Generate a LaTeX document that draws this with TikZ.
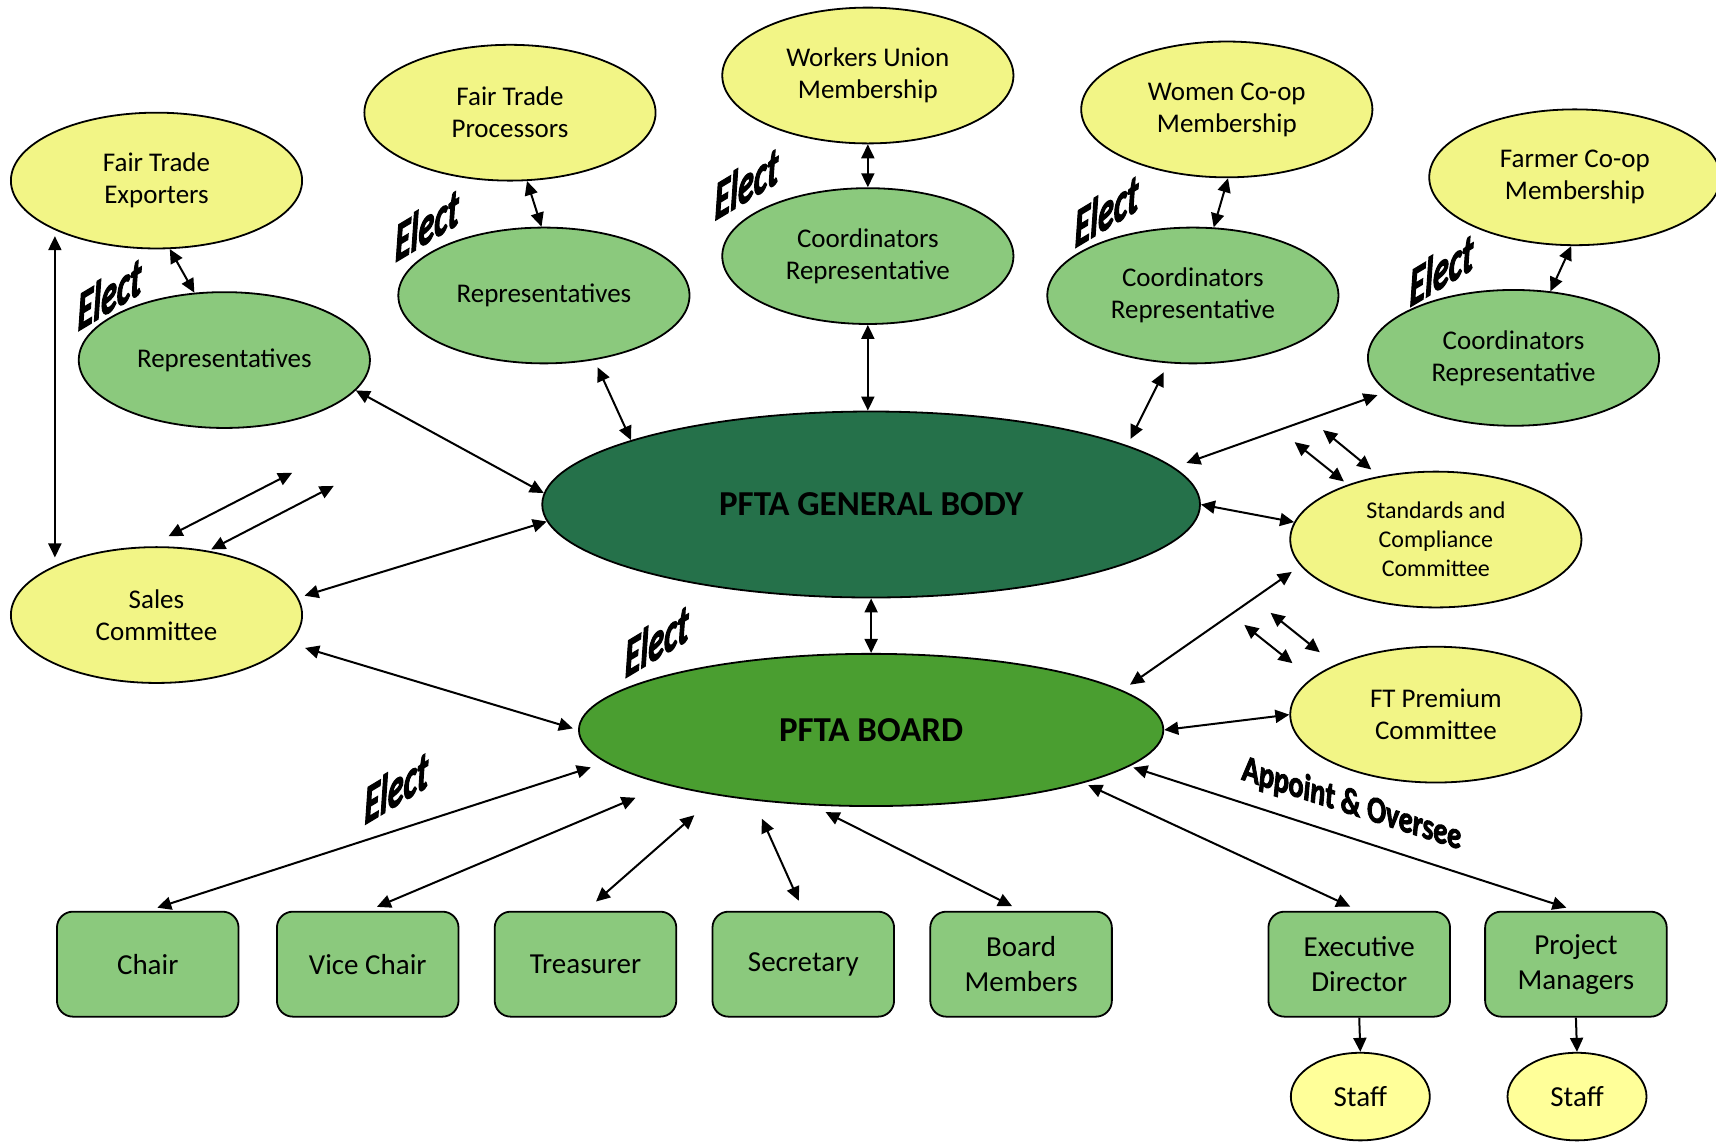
\documentclass[tikz,border=0pt]{standalone}
\usepackage{fontspec}
\setmainfont{Carlito}
\newfontfamily\heavyfont[BoldItalicFeatures={FakeBold=3}]{Carlito}
\usetikzlibrary{shapes.geometric,arrows.meta}

\definecolor{cyel}{HTML}{F2F586}
\definecolor{cgrn}{HTML}{8BC97D}
\definecolor{cgb}{HTML}{25714A}
\definecolor{cbd}{HTML}{4A9E30}
\definecolor{cstaff}{HTML}{FFFF99}

\begin{document}
\begin{tikzpicture}[x=0.5472pt,y=-0.5472pt]
\tikzstyle{every node}=[font=\fontsize{13.5}{16}\selectfont]
\tikzstyle{yel}=[ellipse,draw,line width=0.9pt,fill=cyel,minimum width=145.6pt,minimum height=67.9pt,inner sep=0pt,align=center]
\tikzstyle{grn}=[yel,fill=cgrn]
\tikzstyle{body}=[yel,fill=cgb,minimum width=328.9pt,minimum height=93pt,font=\fontsize{17.5}{20}\selectfont\bfseries]
\tikzstyle{brd}=[body,fill=cbd,minimum width=292.2pt,minimum height=76.1pt]
\tikzstyle{post}=[rectangle,rounded corners=8pt,draw,line width=0.9pt,fill=cgrn,minimum width=90.8pt,minimum height=52.5pt,inner sep=0pt,align=center,font=\fontsize{14.5}{17.5}\selectfont]
\tikzstyle{staff}=[yel,fill=cstaff,minimum width=69.5pt,minimum height=43.8pt,font=\fontsize{14.5}{17.5}\selectfont]
\tikzstyle{link}=[{Triangle[length=7pt,width=6.5pt]}-{Triangle[length=7pt,width=6.5pt]},line width=1pt]
\tikzstyle{down}=[-{Triangle[length=7pt,width=6.5pt]},line width=1pt]
\tikzstyle{elect}=[font=\fontsize{16}{16}\selectfont\heavyfont\bfseries\itshape,inner sep=0pt,yslant=0.6,yscale=1.7]

\fill[white](0,0) rectangle (1568,1043);
\useasboundingbox (0,0) rectangle (1568,1043);

% members and their representatives
\node[yel](fte) at (143,165){Fair Trade\\Exporters};
\node[yel](ftp) at (466,103){Fair Trade\\Processors};
\node[yel](wum) at (793,69){Workers Union\\Membership};
\node[yel](wcm) at (1121,100){Women Co-op\\Membership};
\node[yel](fcm) at (1439,162){Farmer Co-op\\Membership};
\node[grn](rep1) at (205,329){Representatives};
\node[grn](rep2) at (497,270){Representatives};
\node[grn](crd1) at (793,234){Coordinators\\Representative};
\node[grn](crd2) at (1090,270){Coordinators\\Representative};
\node[grn](crd3) at (1383,327){Coordinators\\Representative};

% general body, board, committees
\node[body](gb) at (796,461){PFTA GENERAL BODY};
\node[brd](board) at (796,667){PFTA BOARD};
\node[yel](sales) at (143,562){Sales\\Committee};
\node[yel,font=\fontsize{12}{14.5}\selectfont](scc) at (1312,493){Standards and\\Compliance\\Committee};
\node[yel](ftpc) at (1312,653){FT Premium\\Committee};

% officers and staff
\node[post](chair) at (135,881){Chair};
\node[post](vice) at (336,881){Vice Chair};
\node[post](treas) at (535,881){Treasurer};
\node[post](sec) at (734,881){Secretary};
\node[post](bm) at (933,881){Board\\Members};
\node[post](ed) at (1242,881){Executive\\Director};
\node[post](pm) at (1440,881){Project\\Managers};
\node[staff](staffa) at (1243,1002){Staff};
\node[staff](staffb) at (1441,1002){Staff};

% labels
\node[elect] at (100,268){Elect};
\node[elect] at (390,205){Elect};
\node[elect] at (682,167){Elect};
\node[elect] at (1011,192){Elect};
\node[elect] at (1317,246){Elect};
\node[elect] at (600,585){Elect};
\node[elect] at (362,719){Elect};
\node[font=\fontsize{14}{14}\selectfont\heavyfont\bfseries\itshape,inner sep=0pt,yslant=-0.32,yscale=1.35] at (1235,735){Appoint \& Oversee};

% loose arrow pairs
\coordinate (sa1) at (154,490); \coordinate (sa2) at (267,432);
\coordinate (sb1) at (193,502); \coordinate (sb2) at (305,444);
\coordinate (ca1) at (1183,404); \coordinate (ca2) at (1228,440);
\coordinate (cb1) at (1209,393); \coordinate (cb2) at (1253,429);
\coordinate (pa1) at (1137,571); \coordinate (pa2) at (1181,606);
\coordinate (pb1) at (1161,560); \coordinate (pb2) at (1206,596);
\draw[link](sa1)--(sa2);
\draw[link](sb1)--(sb2);
\draw[link](ca1)--(ca2);
\draw[link](cb1)--(cb2);
\draw[link](pa1)--(pa2);
\draw[link](pb1)--(pb2);

% connectors
\draw[link,shorten <=3pt,shorten >=4pt](fte.206)--(sales.154);
\draw[link](fte.-79)--(rep1.114);
\draw[link](ftp.-76)--(rep2.92);
\draw[link](wum.south)--(crd1.north);
\draw[link](wcm.-89)--(crd2.73);
\draw[link](fcm.-93)--(crd3.61);
\draw[link](rep1.-13)--(gb.178);
\draw[link,shorten <=4pt](rep2.-52)--(gb.165);
\draw[link](crd1.south)--(crd1.south|-gb.north);
\draw[link,shorten <=5pt,shorten >=3.6pt](crd2.-110)--(gb.13);
\draw[link,shorten <=4.7pt,shorten >=6.6pt](crd3.195)--(gb.7);
\draw[link](gb.east)--(scc.173);
\draw[link,shorten <=3.3pt](sales.7)--(gb.183);
\draw[link](gb.south)--(board.north);
\draw[link,shorten <=7.9pt,shorten >=2.7pt](sales.-12)--(board.west);
\draw[link,shorten <=5.3pt,shorten >=4.8pt](scc.191)--(board.9);
\draw[link](board.east)--(ftpc.west);
\draw[link,shorten <=7.8pt,shorten >=5pt](board.187)--(chair.north);
\draw[link,shorten <=16.5pt,shorten >=5pt](board.195)--(vice.north);
\draw[link,shorten <=15pt,shorten >=7pt](board.203)--(treas.north);
\draw[link,shorten <=10pt,shorten >=5.5pt](board.211)--(sec.north);
\draw[link,shorten <=7.5pt,shorten >=5pt](board.232)--(bm.north);
\draw[link,shorten <=2.5pt,shorten >=5pt](board.-14.5)--(ed.north);
\draw[link,shorten <=2pt,shorten >=5pt](board.-8)--(pm.north);
\draw[down](ed.south)--(staffa.north);
\draw[down](pm.south)--(staffb.north);

\end{tikzpicture}
\end{document}
